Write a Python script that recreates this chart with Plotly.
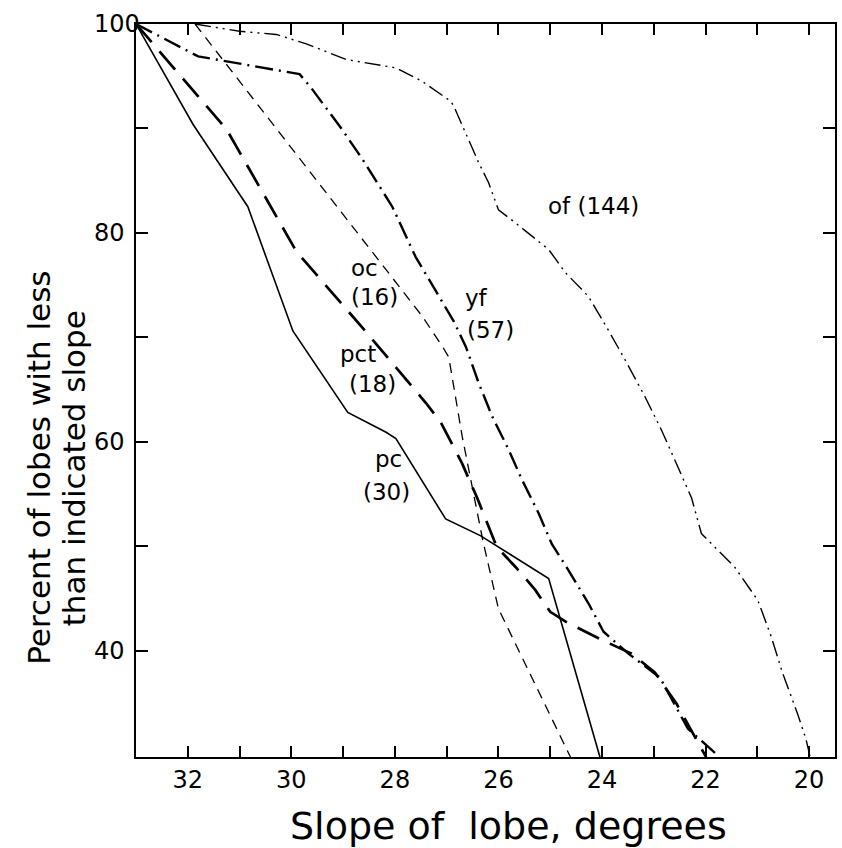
import plotly.graph_objects as go

# ---- data ----
pc_x = [33.0, 31.9, 30.84, 29.97, 28.91, 28.17, 27.98, 27.02, 26.35, 25.03, 24.04]
pc_y = [100, 90.4, 82.5, 70.6, 62.8, 60.9, 60.3, 52.6, 51.0, 46.9, 29.8]

pct_x = [33.0, 31.25, 29.9, 28.59, 27.4, 27.12, 26.7, 26.41, 26.03, 25.67, 25.29, 25.0,
         24.68, 24.04, 23.43, 22.98, 22.56, 22.27, 21.99]
pct_y = [100, 89.9, 78.2, 70.7, 63.7, 61.9, 57.9, 54.6, 49.9, 48.0, 45.8, 43.7,
         42.7, 41.1, 39.7, 37.9, 34.9, 32.3, 29.8]

oc_x = [31.86, 28.62, 27.92, 27.47, 27.08, 26.96, 26.7, 26.3, 26.0, 24.61]
oc_y = [100, 79.4, 74.9, 72.0, 69.1, 68.1, 60.5, 50.5, 44.0, 29.8]

yf_x = [33.0, 31.8, 29.84, 29.62, 29.02, 28.62, 28.05, 27.6, 26.86, 26.63, 26.38, 26.12,
        25.8, 25.55, 25.22, 24.97, 24.65, 24.26, 23.97, 23.49, 22.88, 22.34, 21.73]
yf_y = [100, 96.9, 95.2, 93.9, 89.9, 87.0, 82.5, 77.7, 71.5, 69.1, 65.6, 62.4,
        59.2, 56.4, 53.1, 50.2, 47.7, 44.5, 41.8, 39.7, 37.4, 32.5, 29.8]

of_x = [31.86, 31.0, 30.29, 29.71, 28.94, 27.98, 27.47, 26.92, 26.86, 26.38, 26.19, 26.0,
        25.67, 25.03, 24.71, 24.26, 23.88, 23.55, 23.17, 22.85, 22.59, 22.27, 22.08,
        21.44, 20.99, 20.73, 20.51, 20.22, 20.06, 19.98]
of_y = [100, 99.3, 99.0, 98.1, 96.6, 95.8, 94.5, 92.6, 92.1, 86.7, 84.8, 82.2,
        80.95, 78.4, 76.2, 73.9, 70.7, 67.8, 64.3, 61.1, 58.2, 54.6, 51.2,
        48.0, 44.8, 41.3, 37.8, 33.9, 31.5, 29.8]

x_tickvals = [32, 31, 30, 29, 28, 27, 26, 25, 24, 23, 22, 21, 20]
x_ticktext = ["32", "", "30", "", "28", "", "26", "", "24", "", "22", "", "20"]
y_tickvals = [40, 50, 60, 70, 80, 90, 100]
y_labelvals = [40, 60, 80, 100]
y_labeltext = ["40", "60", "80", "100"]

# label text and anchor positions (data units)
label_text = ["oc", "(16)", "pct", "(18)", "pc", "(30)", "yf", "(57)", "of (144)"]
label_x = [28.59, 28.40, 28.71, 28.44, 28.13, 28.16, 26.43, 26.15, 24.16]
label_y = [76.65, 73.85, 68.41, 65.52, 58.34, 55.18, 73.77, 70.70, 82.58]

FONT = "DejaVu Sans"
fig = go.Figure()

series = [
    (pc_x, pc_y, dict(color="black", width=1.6, dash="solid")),
    (pct_x, pct_y, dict(color="black", width=2.7, dash="24px,12px")),
    (oc_x, oc_y, dict(color="black", width=1.3, dash="10px,7px")),
    (yf_x, yf_y, dict(color="black", width=2.4, dash="18px,6px,2px,6px")),
    (of_x, of_y, dict(color="black", width=1.4, dash="16px,5px,2px,5px,2px,5px")),
]
for xs, ys, ln in series:
    fig.add_trace(go.Scatter(x=xs, y=ys, mode="lines", line=ln,
                             showlegend=False, hoverinfo="skip"))

for t, x, y in zip(label_text, label_x, label_y):
    fig.add_annotation(x=x, y=y, xref="x", yref="y", text=t, showarrow=False,
                       xanchor="center", yanchor="middle",
                       font=dict(family=FONT, size=23, color="black"))

# left-aligned y tick labels, placed on the y scale
for v, t in zip(y_labelvals, y_labeltext):
    fig.add_annotation(x=-0.0628, y=v, xref="paper", yref="y", text=t, showarrow=False,
                       xanchor="left", yanchor="middle",
                       font=dict(family=FONT, size=24, color="black"))

# axis titles
fig.add_annotation(x=0.5335, y=-0.094, xref="paper", yref="paper",
                   text="Slope of  lobe, degrees", showarrow=False,
                   xanchor="center", yanchor="middle",
                   font=dict(family=FONT, size=38, color="black"))
fig.add_annotation(x=-0.138, y=0.394, xref="paper", yref="paper",
                   text="Percent of lobes with less", showarrow=False, textangle=-90,
                   xanchor="center", yanchor="middle",
                   font=dict(family=FONT, size=31, color="black"))
fig.add_annotation(x=-0.0885, y=0.394, xref="paper", yref="paper",
                   text="than indicated slope", showarrow=False, textangle=-90,
                   xanchor="center", yanchor="middle",
                   font=dict(family=FONT, size=31, color="black"))

axis_common = dict(showgrid=False, zeroline=False, showline=True, linecolor="black",
                   linewidth=1.5, ticks="inside", tickcolor="black", tickwidth=1.5,
                   mirror="ticks", tickfont=dict(family=FONT, size=24, color="black"))

fig.update_xaxes(range=[33, 19.5], tickmode="array", tickvals=x_tickvals,
                 ticktext=x_ticktext, ticklen=11, **axis_common)
fig.update_yaxes(range=[29.8, 100], tickmode="array", tickvals=y_tickvals,
                 showticklabels=False, ticklen=12, **axis_common)

fig.update_layout(width=842, height=848, margin=dict(l=136, r=5, t=24, b=91),
                  paper_bgcolor="white", plot_bgcolor="white")

fig.write_html("out.html",
               config={"displayModeBar": False},
               post_script="document.body.style.margin='0px';"
                           "document.body.style.padding='0px';"
                           "document.body.style.overflow='hidden';")
